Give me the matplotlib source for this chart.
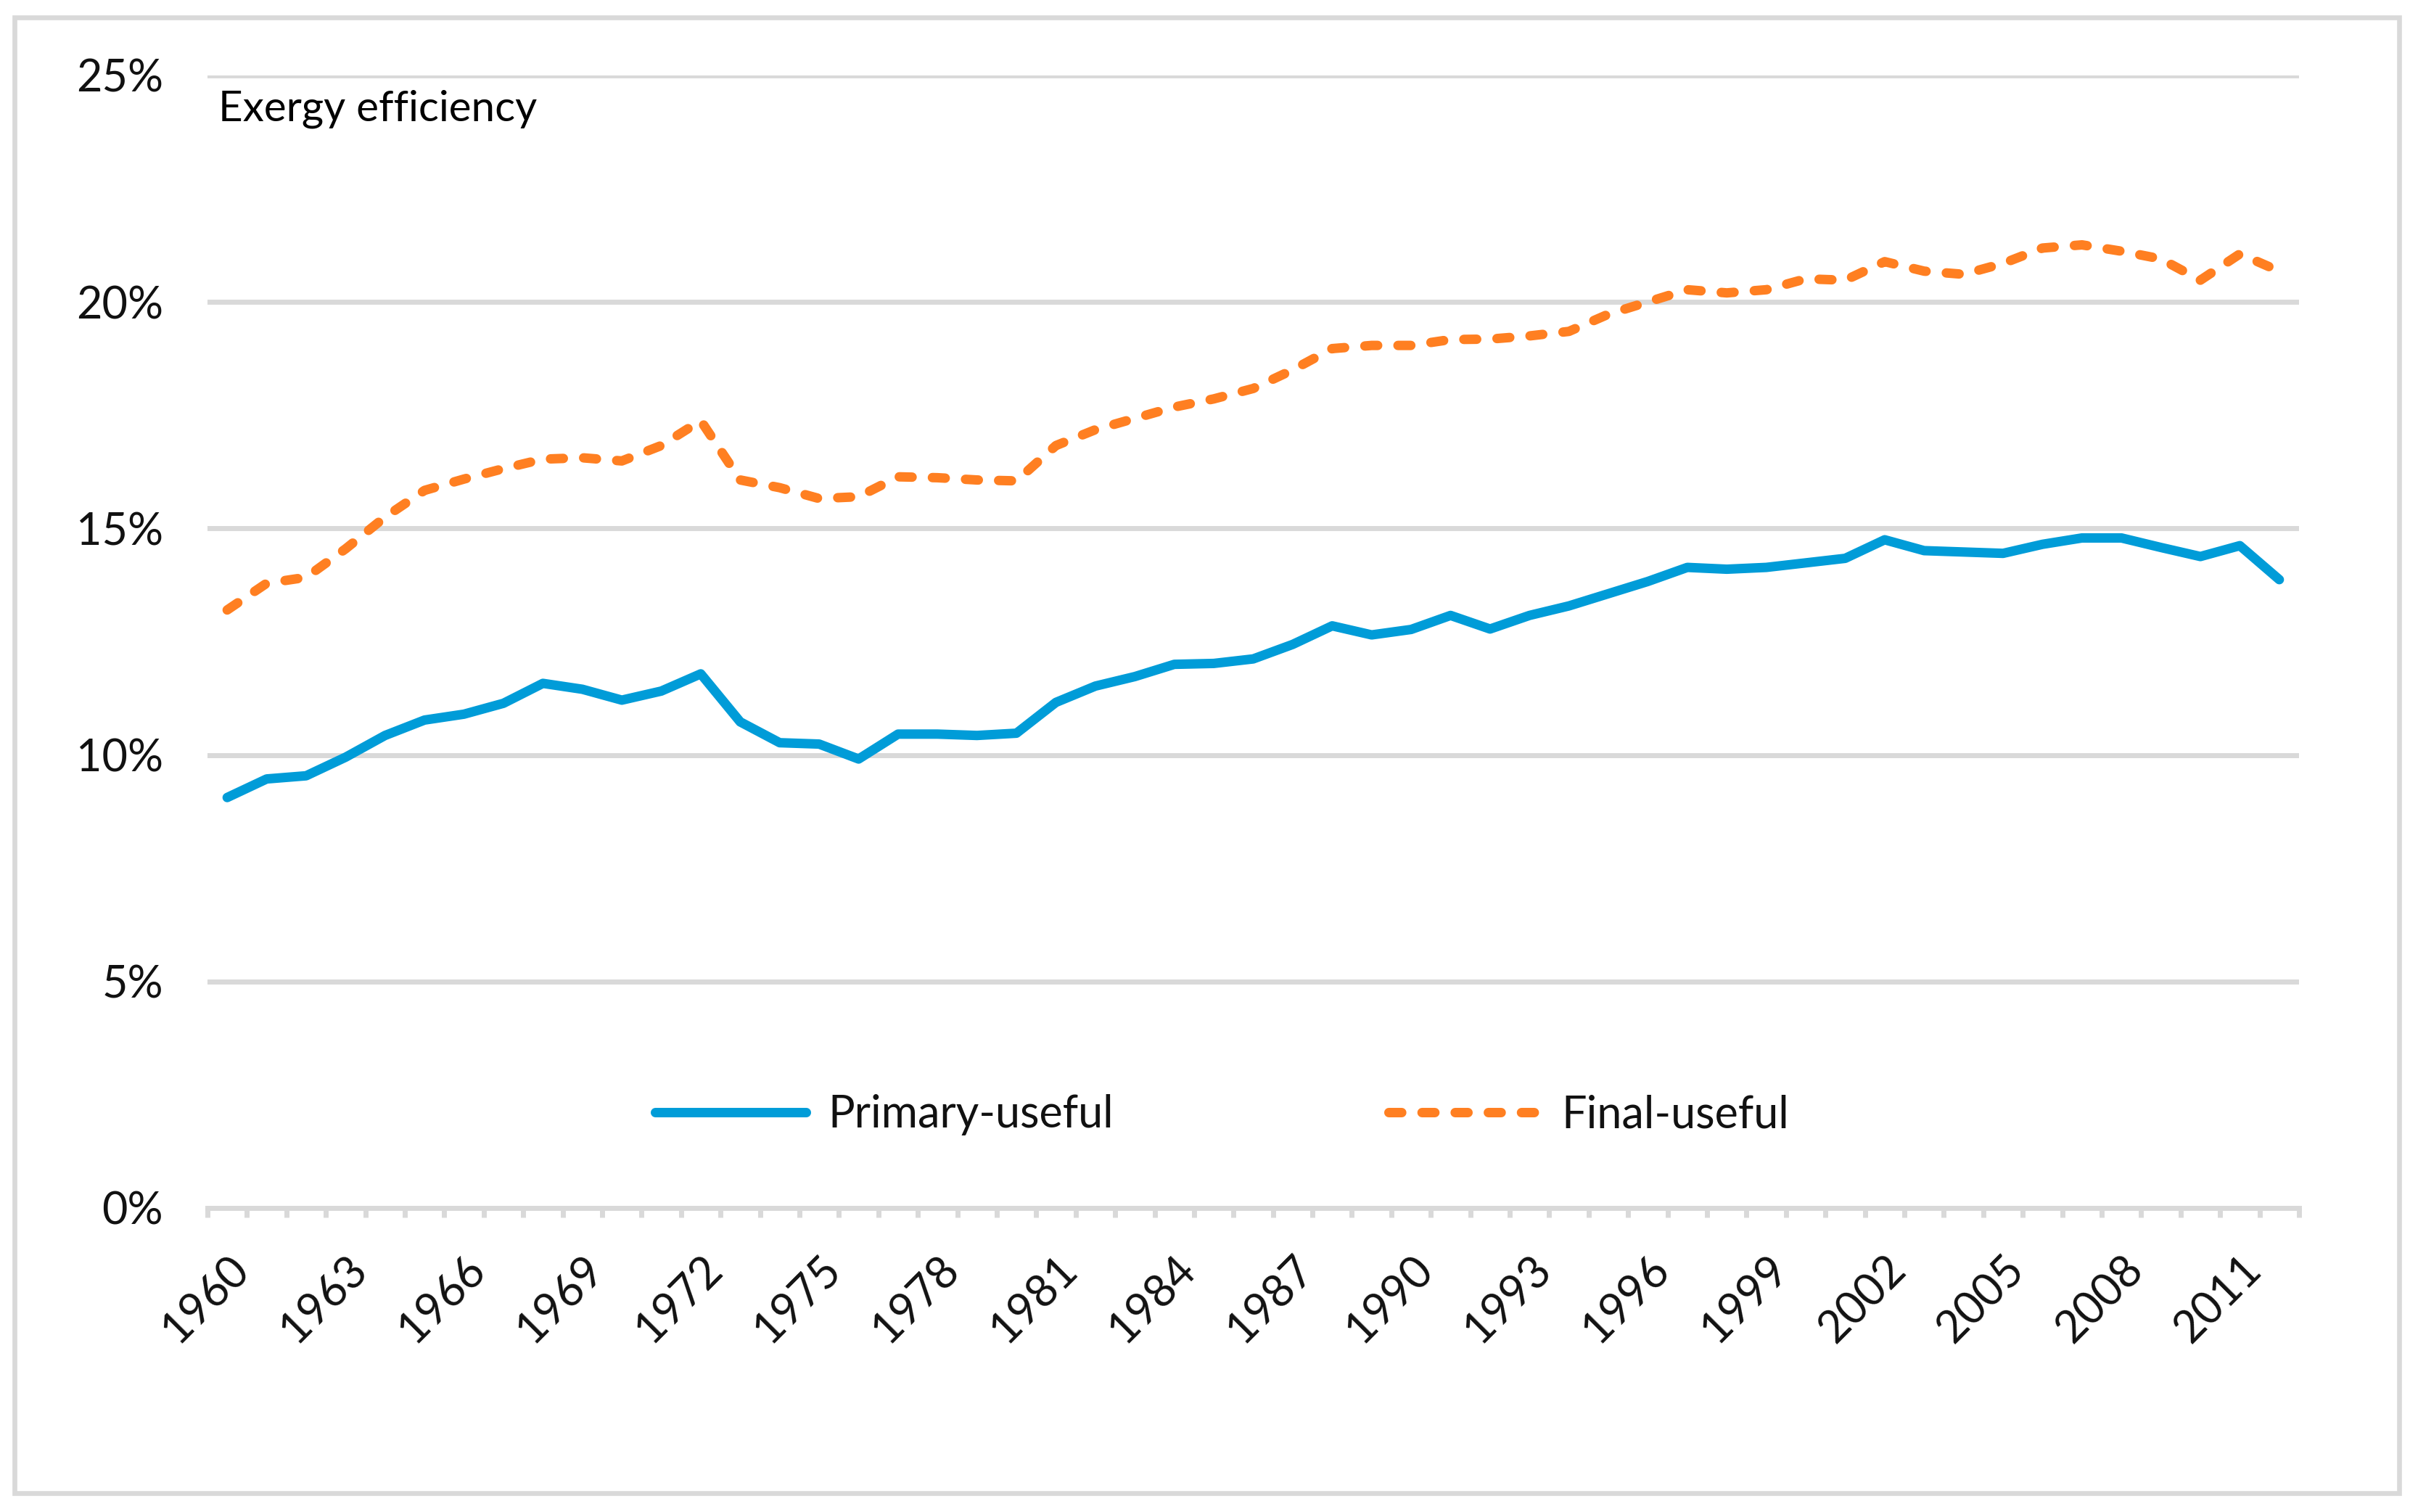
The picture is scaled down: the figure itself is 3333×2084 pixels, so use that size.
import matplotlib
matplotlib.use("Agg")
import matplotlib.pyplot as plt
from matplotlib.patches import Rectangle

years = list(range(1960, 2013))

# exergy efficiency, %
primary_useful = [
    9.06, 9.47, 9.54, 9.95, 10.43, 10.77, 10.90, 11.14, 11.58, 11.45,
    11.21, 11.41, 11.79, 10.73, 10.27, 10.24, 9.91, 10.46, 10.46, 10.43,
    10.48, 11.16, 11.52, 11.73, 12.00, 12.02, 12.12, 12.44, 12.85, 12.65,
    12.77, 13.08, 12.78, 13.08, 13.29, 13.56, 13.83, 14.14, 14.10, 14.14,
    14.24, 14.34, 14.75, 14.51, 14.48, 14.45, 14.65, 14.79, 14.79, 14.58,
    14.38, 14.62, 13.87,
]
final_useful = [
    13.20, 13.79, 13.92, 14.55, 15.25, 15.84, 16.09, 16.32, 16.53, 16.56,
    16.49, 16.83, 17.38, 16.07, 15.90, 15.66, 15.70, 16.14, 16.12, 16.07,
    16.05, 16.83, 17.18, 17.43, 17.68, 17.86, 18.09, 18.50, 18.97, 19.04,
    19.04, 19.17, 19.18, 19.25, 19.35, 19.73, 20.00, 20.27, 20.20, 20.27,
    20.51, 20.48, 20.89, 20.68, 20.61, 20.85, 21.19, 21.26, 21.12, 20.95,
    20.48, 21.06, 20.68,
]

series_names = ["Primary-useful", "Final-useful"]
y_ticks = [0, 5, 10, 15, 20, 25]

BLUE = "#009cd8"
ORANGE = "#ff7f21"
GREY = "#d9d9d9"
TEXT = "#111111"
FONT = "Lato"
LW = 4.7

fig = plt.figure(figsize=(16.665, 10.42), dpi=200)
ax = fig.add_axes([0.0858, 0.2011, 0.8650, 0.7490])

x = list(range(len(years)))
ax.plot(x, primary_useful, color=BLUE, lw=LW, solid_capstyle="round",
        solid_joinstyle="round", label=series_names[0], zorder=3)
ax.plot(x, final_useful, color=ORANGE, lw=LW, dashes=(1.35, 2.15),
        dash_capstyle="round", dash_joinstyle="round",
        label=series_names[1], zorder=3)

ax.set_xlim(-0.5, len(years) - 0.5)
ax.set_ylim(0, 25)

ax.set_yticks(y_ticks)
ax.set_yticklabels([f"{v}%" for v in y_ticks], family=FONT, fontsize=22)
ax.tick_params(axis="y", length=0, pad=22, colors=TEXT)
ax.grid(True, axis="y", color=GREY, lw=2.5, zorder=1)
ax.set_axisbelow(True)

label_pos = x[::3]
ax.set_xticks(label_pos)
ax.set_xticklabels([str(years[i]) for i in label_pos], family=FONT,
                   fontsize=22, rotation=45,
                   ha="right", va="top", rotation_mode="anchor")
ax.set_xticks([i - 0.5 for i in range(len(years) + 1)], minor=True)
ax.tick_params(axis="x", which="major", length=0, pad=20, colors=TEXT)
ax.tick_params(axis="x", which="minor", length=4.7, width=2.5, color=GREY)

for side in ["left", "right", "top"]:
    ax.spines[side].set_visible(False)
ax.spines["bottom"].set_color(GREY)
ax.spines["bottom"].set_linewidth(2.5)

fig.text(0.0903, 0.92, "Exergy efficiency", family=FONT, fontsize=21,
         color="#000000", ha="left", va="baseline")

leg = fig.legend(loc="center", bbox_to_anchor=(0.5055, 0.2625), ncol=2,
                 frameon=False, handlelength=3.4, handletextpad=0.5,
                 columnspacing=6.2,
                 prop={"family": FONT, "size": 22})
for t in leg.get_texts():
    t.set_color(TEXT)
for h in leg.get_lines():
    h.set_solid_capstyle("round")
    h.set_dash_capstyle("round")

fig.patches.append(Rectangle((0.006, 0.0125), 0.9862, 0.976,
                             transform=fig.transFigure, fill=False,
                             edgecolor=GREY, lw=2.4))

fig.savefig("out.png", dpi=200)
